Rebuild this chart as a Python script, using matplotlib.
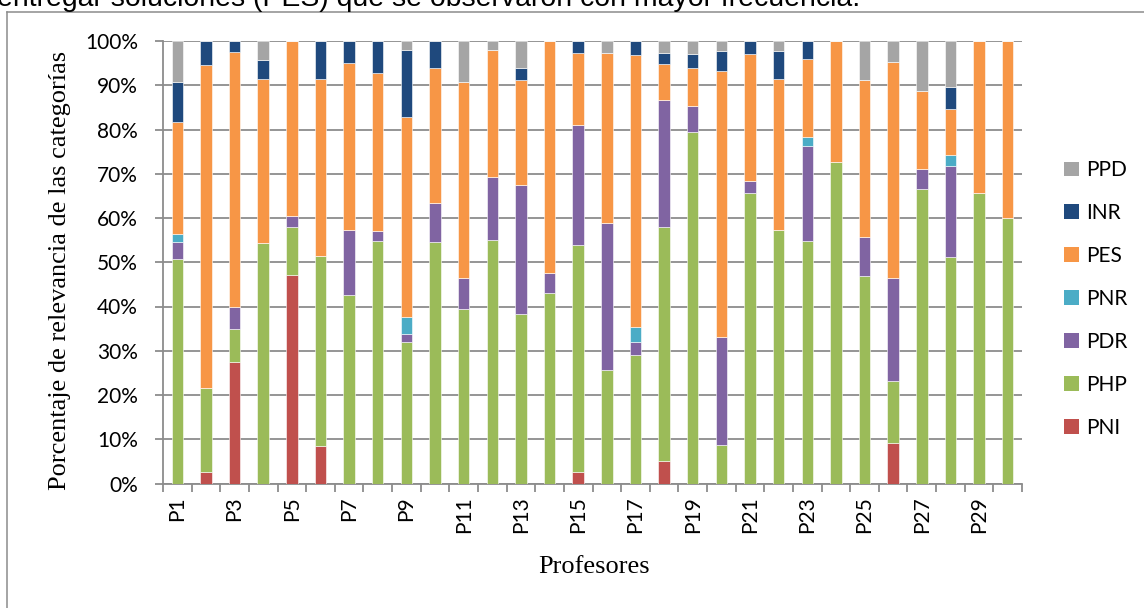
import matplotlib
matplotlib.use("Agg")
import matplotlib.pyplot as plt
from matplotlib.lines import Line2D
from matplotlib.patches import Patch
import numpy as np

# Professors P1..P30
profesores = [f"P{i}" for i in range(1, 31)]

# Percentage share of each category per professor (stacked bottom to top)
PNI = [0, 2.6, 27.5, 0, 47.2, 8.5, 0, 0, 0, 0,
       0, 0, 0, 0, 2.6, 0, 0, 5.1, 0, 0,
       0, 0, 0, 0, 0, 9.2, 0, 0, 0, 0]
PHP = [50.8, 18.9, 7.4, 54.3, 10.7, 42.9, 42.5, 54.8, 32.0, 54.5,
       39.4, 55.0, 38.2, 43.1, 51.4, 25.6, 29.0, 52.8, 79.4, 8.8,
       65.6, 57.4, 54.9, 72.7, 47.0, 13.9, 66.5, 51.2, 65.6, 59.9]
PDR = [3.7, 0, 5.0, 0, 2.5, 0, 14.9, 2.2, 1.8, 9.0,
       7.1, 14.3, 29.3, 4.5, 27.0, 33.3, 3.0, 28.8, 5.8, 24.4,
       2.8, 0, 21.4, 0, 8.8, 23.4, 4.6, 20.5, 0, 0]
PNR = [1.9, 0, 0, 0, 0, 0, 0, 0, 3.8, 0,
       0, 0, 0, 0, 0, 0, 3.4, 0, 0, 0,
       0, 0, 2.1, 0, 0, 0, 0, 2.6, 0, 0]
PES = [25.4, 73.1, 57.6, 37.0, 39.6, 40.0, 37.6, 35.8, 45.3, 30.4,
       44.2, 28.6, 23.6, 52.4, 16.3, 38.5, 61.4, 8.0, 8.8, 60.1,
       28.7, 34.0, 17.6, 27.3, 35.3, 48.8, 17.7, 10.3, 34.4, 40.1]
INR = [9.0, 5.4, 2.5, 4.3, 0, 8.6, 5.0, 7.2, 15.1, 6.1,
       0, 0, 2.9, 0, 2.7, 0, 3.2, 2.7, 3.1, 4.5,
       2.9, 6.4, 4.0, 0, 0, 0, 0, 5.1, 0, 0]
PPD = [9.2, 0, 0, 4.4, 0, 0, 0, 0, 2.0, 0,
       9.3, 2.1, 6.0, 0, 0, 2.6, 0, 2.6, 2.9, 2.2,
       0, 2.2, 0, 0, 8.9, 4.7, 11.2, 10.3, 0, 0]

categorias = ["PNI", "PHP", "PDR", "PNR", "PES", "INR", "PPD"]
series = [PNI, PHP, PDR, PNR, PES, INR, PPD]
colores = ["#C0504D", "#9BBB59", "#8064A2", "#4BACC6", "#F79646", "#1F497D", "#A5A5A5"]

W, H = 1144, 608
fig = plt.figure(figsize=(W / 100, H / 100), dpi=100)
ax = fig.add_axes([163 / W, 1 - 483.5 / H, (1022 - 163) / W, (483.5 - 41) / H])

gris = "#8C8C8C"
x = np.arange(len(profesores))
data = np.array(series, dtype=float)
totales = data.sum(axis=0)
pct = data / totales * 100

bottom = np.zeros(len(profesores))
for nombre, vals, col in zip(categorias, pct, colores):
    ax.bar(x, vals, width=0.4, bottom=bottom, color=col, edgecolor="white",
           linewidth=0.4, label=nombre, zorder=3)
    bottom += vals

ax.set_xlim(-0.5, len(profesores) - 0.5)
ax.set_ylim(0, 100)

# y axis: gridlines and percentage labels
yt = np.arange(0, 101, 10)
ax.set_yticks(yt)
ax.set_yticklabels([f"{v}%" for v in yt], fontfamily="Lato", fontsize=15)
ax.yaxis.grid(True, color=gris, linewidth=1.3, zorder=0)
ax.tick_params(axis="y", direction="out", length=6, width=1.3, color=gris, pad=12)

# x axis: boundary ticks, labels on every other category
ax.set_xticks(np.arange(-0.5, len(profesores), 1.0))
ax.set_xticklabels([])
ax.tick_params(axis="x", which="major", direction="out", length=6, width=1.3, color=gris)
ax.set_xticks(x[::2], minor=True)
ax.set_xticklabels(profesores[::2], minor=True, rotation=90, fontfamily="Lato", fontsize=15)
ax.tick_params(axis="x", which="minor", length=0, pad=9)

for side in ("top", "right"):
    ax.spines[side].set_visible(False)
for side in ("left", "bottom"):
    ax.spines[side].set_color(gris)
    ax.spines[side].set_linewidth(1.3)

fig.text(60 / W, 1 - 270 / H, "Porcentaje de relevancia de las categorías",
         rotation=90, ha="center", va="center", fontfamily="Liberation Serif", fontsize=19)
fig.text(594 / W, 1 - 567 / H, "Profesores", ha="center", va="center",
         fontfamily="Liberation Serif", fontsize=19)

handles = [Patch(facecolor=c, edgecolor="none") for c in colores][::-1]
leg = fig.legend(handles, categorias[::-1], loc="upper left",
                 bbox_to_anchor=(1058 / W, 1 - 154 / H), frameon=False,
                 prop={"family": "Lato", "size": 15}, handlelength=0.72,
                 handleheight=0.72, handletextpad=0.35, labelspacing=1.1,
                 borderaxespad=0, borderpad=0.3)

# caption line above the chart frame
fig.text(-3 / W, 1 - 5.5 / H, "entregar soluciones (PES) que se observaron con mayor frecuencia.",
         ha="left", va="baseline", fontfamily="Liberation Sans", fontsize=20.4)

# chart frame
fig.add_artist(Line2D([7 / W, 7 / W], [0, 1 - 12 / H], color=gris, linewidth=1.1))
fig.add_artist(Line2D([7 / W, 1], [1 - 12 / H, 1 - 12 / H], color=gris, linewidth=1.1))

fig.savefig("out.png", dpi=100, facecolor="white")
